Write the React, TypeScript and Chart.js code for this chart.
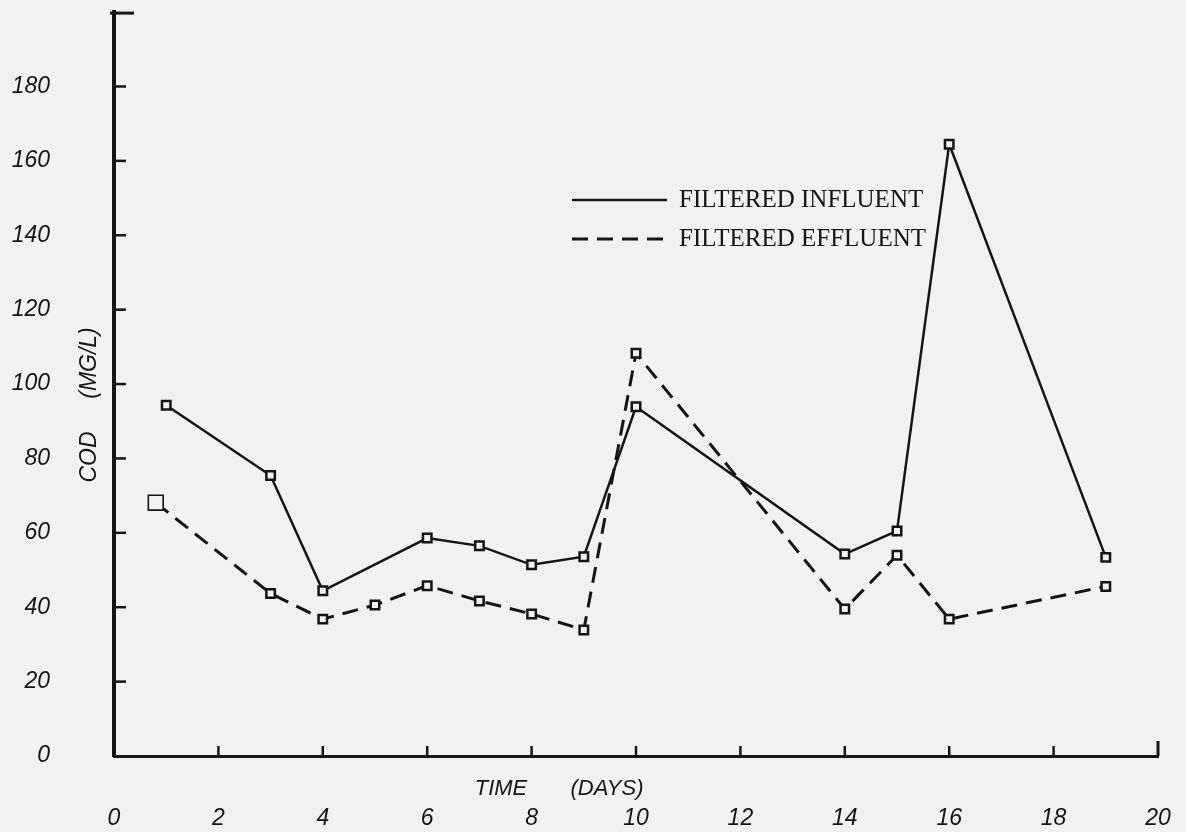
import React, { useEffect, useRef } from "react";
import { Chart, registerables } from "chart.js";

Chart.register(...registerables);

// ---- data ----
const influentDays = [1, 3, 4, 6, 7, 8, 9, 10, 14, 15, 16, 19];
const influentCod = [94.3, 75.4, 44.4, 58.6, 56.5, 51.4, 53.6, 93.9, 54.3, 60.5, 164.5, 53.4];
const effluentDays = [0.8, 3, 4, 5, 6, 7, 8, 9, 10, 14, 15, 16, 19];
const effluentCod = [68.1, 43.7, 36.8, 40.6, 45.8, 41.7, 38.2, 33.9, 108.3, 39.5, 54, 36.8, 45.6];
const xTickValues = [0, 2, 4, 6, 8, 10, 12, 14, 16, 18, 20];
const yTickValues = [0, 20, 40, 60, 80, 100, 120, 140, 160, 180];
const seriesNames = ["FILTERED INFLUENT", "FILTERED EFFLUENT"];
const xTitleParts = ["TIME", "(DAYS)"];
const yTitleParts = ["COD", "(MG/L)"];

const BG = "#f1f1f1";
const INK = "#151515";
const LABEL_FONT = "'Liberation Sans', Arial, sans-serif";
const LEGEND_FONT = "'Liberation Serif', 'Times New Roman', serif";

const zeroPadding = (s: any) => {
  s.paddingTop = 0;
  s.paddingBottom = 0;
  s.paddingLeft = 0;
  s.paddingRight = 0;
};

const decorPlugin = {
  id: "decor",
  beforeDatasetsDraw(chart: any) {
    const { ctx, chartArea, scales } = chart;
    const xs = scales.x;
    const ys = scales.y;
    ctx.save();
    ctx.strokeStyle = INK;
    ctx.lineCap = "butt";
    // inward x ticks
    xs.ticks.forEach((t: any) => {
      if (t.value === xs.min) return;
      const px = xs.getPixelForValue(t.value);
      const last = t.value === xs.max;
      ctx.lineWidth = last ? 3 : 2.5;
      ctx.beginPath();
      ctx.moveTo(px, chartArea.bottom);
      ctx.lineTo(px, chartArea.bottom - (last ? 15 : 10));
      ctx.stroke();
    });
    // inward y ticks
    ctx.lineWidth = 2.5;
    ys.ticks.forEach((t: any) => {
      if (t.value === ys.min) return;
      const py = ys.getPixelForValue(t.value);
      ctx.beginPath();
      ctx.moveTo(chartArea.left, py);
      ctx.lineTo(chartArea.left + 12, py);
      ctx.stroke();
    });
    // cap at the top of the y axis
    const top = ys.getPixelForValue(ys.max);
    ctx.lineWidth = 3;
    ctx.beginPath();
    ctx.moveTo(chartArea.left - 4, top + 1);
    ctx.lineTo(chartArea.left + 20, top + 1);
    ctx.stroke();
    ctx.restore();
  },
  afterDraw(chart: any) {
    const { ctx } = chart;
    ctx.save();
    ctx.fillStyle = INK;
    // axis titles
    ctx.font = `italic 22px ${LABEL_FONT}`;
    ctx.textBaseline = "middle";
    ctx.textAlign = "center";
    ctx.fillText(xTitleParts[0], 501, 789);
    ctx.fillText(xTitleParts[1], 607, 789);
    ctx.save();
    ctx.translate(90, 0);
    ctx.rotate(-Math.PI / 2);
    ctx.font = `italic 23px ${LABEL_FONT}`;
    ctx.fillText(yTitleParts[0], -457, 0);
    ctx.fillText(yTitleParts[1], -363, 0);
    ctx.restore();

    // legend
    const ds = chart.data.datasets;
    const rows = [200, 239];
    ds.forEach((d: any, i: number) => {
      const yy = rows[i];
      ctx.save();
      ctx.strokeStyle = d.borderColor;
      ctx.lineWidth = d.borderWidth;
      ctx.setLineDash(d.borderDash || []);
      ctx.beginPath();
      ctx.moveTo(572, yy);
      ctx.lineTo(667, yy);
      ctx.stroke();
      ctx.restore();
      ctx.font = `25px ${LEGEND_FONT}`;
      ctx.textAlign = "left";
      ctx.textBaseline = "middle";
      ctx.fillText(d.label, 679, yy);
    });
    ctx.restore();
  },
};

export default function App() {
  const canvasRef = useRef<HTMLCanvasElement | null>(null);

  useEffect(() => {
    if (!canvasRef.current) return;
    const influent = influentDays.map((d, i) => ({ x: d, y: influentCod[i] }));
    const effluent = effluentDays.map((d, i) => ({ x: d, y: effluentCod[i] }));

    const chart = new Chart(canvasRef.current, {
      type: "line",
      data: {
        datasets: [
          {
            label: seriesNames[0],
            data: influent,
            borderColor: INK,
            borderWidth: 2.5,
            tension: 0,
            pointStyle: "rect",
            pointRadius: 6,
            pointBorderWidth: 2.5,
            pointBorderColor: INK,
            pointBackgroundColor: BG,
            fill: false,
          },
          {
            label: seriesNames[1],
            data: effluent,
            borderColor: INK,
            borderWidth: 3,
            borderDash: [16, 9],
            tension: 0,
            pointStyle: "rect",
            pointRadius: (c: any) => (c.dataIndex === 0 ? 10.5 : 6),
            pointBorderWidth: (c: any) => (c.dataIndex === 0 ? 1.6 : 2.5),
            pointBorderColor: INK,
            pointBackgroundColor: BG,
            fill: false,
          },
        ],
      },
      options: {
        animation: false,
        responsive: false,
        events: [],
        layout: { padding: { top: 11, right: 28, left: 0, bottom: 0 } },
        plugins: {
          legend: { display: false },
          tooltip: { enabled: false },
          title: { display: false },
        },
        scales: {
          x: {
            type: "linear",
            position: "bottom",
            min: 0,
            max: 20,
            afterBuildTicks: (s: any) => {
              s.ticks = xTickValues.map((v) => ({ value: v }));
            },
            afterFit: (s: any) => {
              s.height = 76;
              zeroPadding(s);
            },
            grid: { display: false, drawTicks: false },
            border: { display: true, color: INK, width: 3 },
            ticks: {
              autoSkip: false,
              maxRotation: 0,
              padding: 49,
              color: INK,
              font: { family: LABEL_FONT, size: 23, style: "italic" },
            },
          },
          y: {
            type: "linear",
            position: "left",
            min: 0,
            max: 200,
            afterBuildTicks: (s: any) => {
              s.ticks = yTickValues.map((v) => ({ value: v }));
            },
            afterFit: (s: any) => {
              s.width = 114;
              zeroPadding(s);
            },
            grid: { display: false, drawTicks: false },
            border: { display: true, color: INK, width: 4 },
            ticks: {
              autoSkip: false,
              padding: 64,
              color: INK,
              font: { family: LABEL_FONT, size: 23, style: "italic" },
            },
          },
        },
      },
      plugins: [decorPlugin],
    } as any);

    return () => chart.destroy();
  }, []);

  return (
    <div style={{ position: "fixed", left: 0, top: 0, width: 1186, height: 832, background: BG }}>
      <canvas ref={canvasRef} width={1186} height={832} style={{ display: "block" }} />
    </div>
  );
}
